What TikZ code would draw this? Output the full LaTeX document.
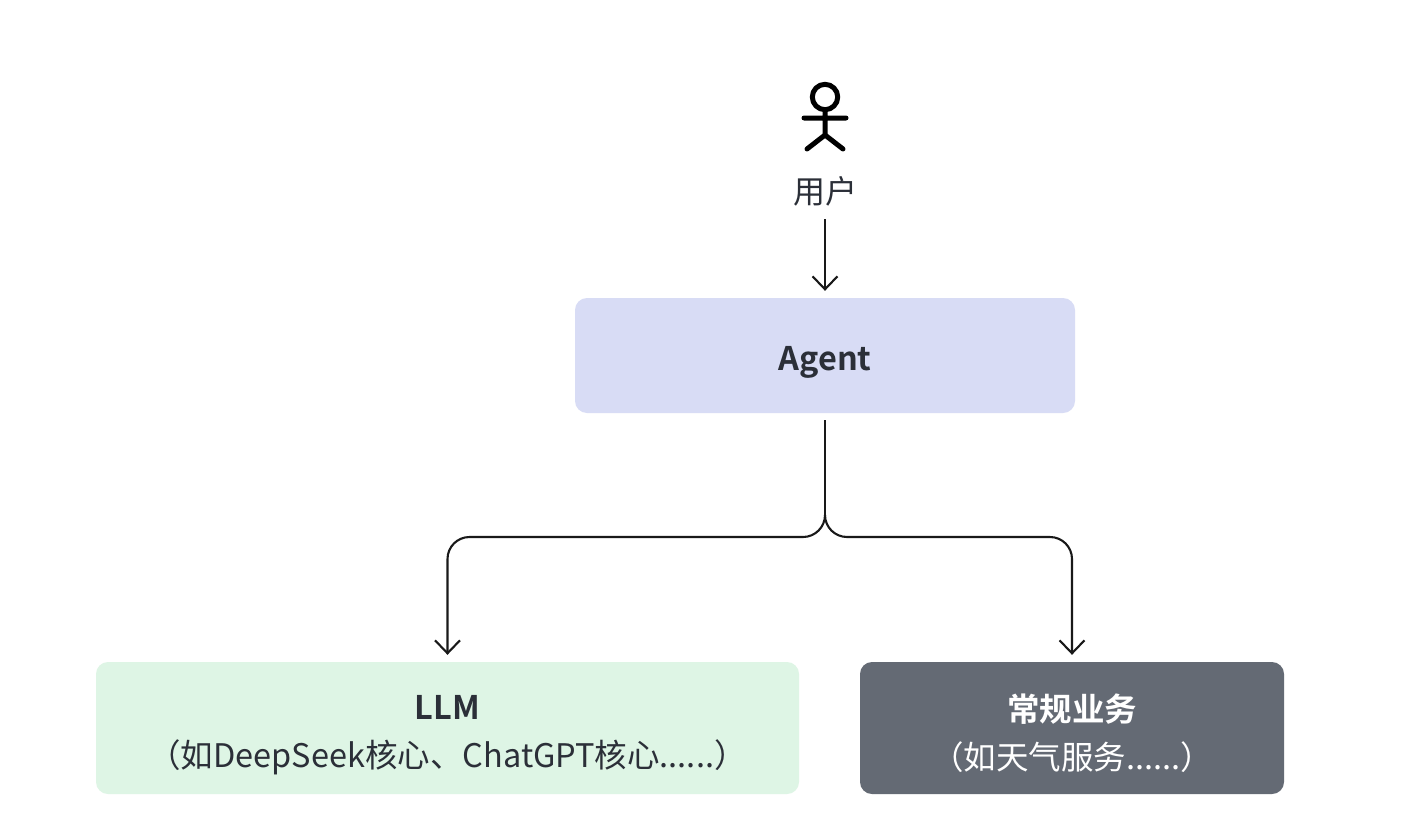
\documentclass[tikz,border=0pt]{standalone}
\usepackage{fontspec}
\usetikzlibrary{arrows.meta}
\setmainfont{Noto Sans CJK SC}[BoldFont={Noto Sans CJK SC Bold}]
\definecolor{inkdark}{HTML}{2B2F38}
\definecolor{agentfill}{HTML}{D8DCF5}
\definecolor{llmfill}{HTML}{DEF5E5}
\definecolor{bizfill}{HTML}{646A74}
\tikzset{
  x=1pt, y=-1pt,
  card/.style={rounded corners=12pt, inner sep=0pt, align=center, font=\fontsize{32.5pt}{48pt}\selectfont, text=inkdark},
  link/.style={draw=black!90, line width=2.1pt},
  tipped/.style={link, -{Straight Barb[length=13pt,width=25pt,line width=2.1pt]}, shorten >=7pt},
  figure line/.style={line width=5pt, line cap=round, line join=round}
}
\newcommand{\headroom}{\rule{0pt}{39pt}}
\begin{document}
\begin{tikzpicture}
  \useasboundingbox (0,0) rectangle (1419,838);
  \fill[white] (0,0) rectangle (1419,838);

  % person icon
  \draw[figure line] (825,97) circle[radius=12.7pt];
  \draw[figure line] (825,110) -- (825,135) (804,118) -- (846,118)
        (807,149) -- (825,135) -- (843,149);
  \node[inner sep=0pt, text=inkdark, font=\fontsize{32pt}{38pt}\selectfont] (user) at (825,191) {用户};

  % boxes
  \node[card, fill=agentfill, minimum width=500pt, minimum height=115pt, text height=29pt, text depth=0pt, font=\fontsize{32.5pt}{38pt}\selectfont\bfseries] (agent) at (825,355.5) {Agent};
  \node[card, fill=llmfill, minimum width=703pt, minimum height=132pt] (llm) at (447.5,728)
    {\headroom\textbf{LLM}\\（如DeepSeek核心、ChatGPT核心......）};
  \node[card, fill=bizfill, text=white, minimum width=424pt, minimum height=132pt] (biz) at (1072,728)
    {\headroom\textbf{常规业务}\\（如天气服务......）};

  % connectors
  \coordinate (hub) at (825,515);
  \coordinate (rail) at (825,537);
  \draw[tipped, shorten <=13pt] (user.south -| agent.north) -- (agent.north);
  \draw[link, shorten <=7pt] (agent.south) -- (hub);
  \draw[tipped, rounded corners=22pt] (hub) -- (rail) -- (llm.north |- rail) -- (llm.north);
  \draw[tipped, rounded corners=22pt] (hub) -- (rail) -- (biz.north |- rail) -- (biz.north);
\end{tikzpicture}
\end{document}
